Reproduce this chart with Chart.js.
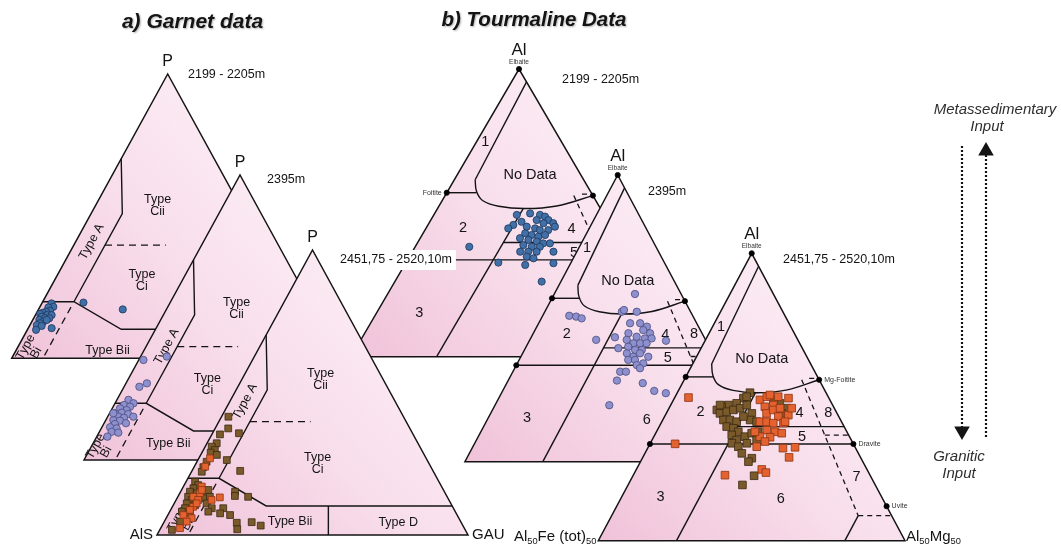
<!DOCTYPE html>
<html>
<head>
<meta charset="utf-8">
<title>Garnet and tourmaline ternary diagrams</title>
<script src="https://cdn.jsdelivr.net/npm/chart.js@4.4.1/dist/chart.umd.min.js"></script>
<style>
html, body { margin: 0; padding: 0; background: #fff; }
canvas { display: block; }
</style>
</head>
<body>
<canvas id="chart" width="1061" height="544"></canvas>
<script>
// ---------------- data ----------------
const depthLabels = ['2199 - 2205m', '2395m', '2451,75 - 2520,10m'];
const garnetApices = ['P', 'AlS', 'GAU'];
const tourmApex = 'Al';

// Garnet analyses: [P %, GAU %]; AlS is the remainder
const garnet2199 = [
  [19.3,3.1],[18.1,4.3],[17.9,2.8],[16.7,3.9],[16.4,2.8],[16.0,1.9],[15.6,1.3],[15.2,3.8],
  [15.2,5.2],[14.6,2.3],[14.1,3.6],[14.1,5.0],[13.5,2.1],[12.9,3.7],[12.3,2.9],[13.5,4.5],
  [11.7,2.2],[11.4,3.9],[10.0,2.8],[10.6,7.5],[19.6,13.2],[17.2,27.0]
];
const garnet2395 = [
  [21.1,3.7],[19.9,5.9],[19.3,3.2],[18.7,5.4],[18.1,2.5],[17.5,4.9],[16.6,3.8],[16.4,1.7],
  [16.1,6.1],[15.2,3.4],[14.8,5.4],[14.0,2.4],[13.8,4.6],[12.9,7.0],[12.6,3.6],[11.5,2.6],
  [11.1,4.9],[9.9,3.9],[9.6,6.2],[8.2,3.4],[16.4,1.2],[15.2,8.2],[35.1,1.5],[25.7,4.9],
  [26.9,6.7],[36.3,8.4]
];
const garnet2451Brown = [
  [41.5,2.2],[37.4,4.2],[35.7,8.5],[35.3,2.6],[32.2,3.1],[31.0,2.1],[29.8,3.7],[28.9,2.8],
  [28.1,5.2],[25.7,3.1],[26.3,9.3],[23.8,3.0],[22.2,3.3],[22.5,15.5],[18.7,2.9],[17.5,4.5],
  [16.4,3.5],[15.2,3.0],[14.6,5.5],[13.4,3.3],[12.3,5.0],[11.1,4.0],[10.5,7.0],[9.4,4.3],
  [8.2,3.9],[7.6,6.8],[14.0,7.4],[12.9,9.0],[13.4,10.3],[11.1,10.4],[9.4,12.9],[8.2,12.4],
  [15.2,17.5],[13.7,18.2],[13.4,22.6],[9.4,16.6],[7.6,16.5],[7.0,20.0],[4.3,23.5],[2.0,24.8],
  [4.5,28.2],[3.3,31.7],[4.7,5.1],[1.8,3.9],[15.8,8.6]
];
const garnet2451Orange = [
  [26.9,3.6],[24.0,3.5],[17.0,5.9],[14.6,6.5],[13.4,5.0],[12.3,7.1],[9.9,6.7],[8.8,6.2],
  [7.0,5.0],[5.9,8.2],[2.4,6.2],[12.3,11.4],[13.2,13.6],[15.8,6.5],[11.1,7.2],[4.7,7.2]
];

// Tourmaline analyses: [Al %, Al50Mg50 %]; Al50Fe50 is the remainder
const tourm2199 = [
  [49.3,24.7],[49.8,28.4],[49.3,31.6],[48.7,33.4],[47.5,31.5],[47.5,35.0],[46.4,37.0],[46.4,34.1],
  [46.9,27.3],[45.8,25.4],[44.6,24.5],[45.2,29.7],[44.6,32.5],[44.0,34.2],[44.0,36.7],[45.2,38.1],
  [42.9,30.4],[42.3,32.6],[41.7,34.9],[42.3,36.6],[41.2,29.7],[40.6,32.5],[40.0,35.3],[39.4,37.5],
  [39.4,39.5],[38.8,31.9],[38.2,34.7],[38.2,37.1],[36.5,32.1],[36.5,34.5],[36.5,37.0],[36.5,42.0],
  [34.8,34.9],[34.2,37.2],[31.9,35.9],[32.5,44.0],[32.7,27.5],[38.2,16.1],[26.1,43.7]
];
const tourm2395 = [
  [58.5,26.4],[50.9,8.7],[50.6,11.1],[50.0,13.2],[52.3,25.2],[52.9,25.6],[52.3,30.1],[42.5,21.7],
  [43.4,27.4],[39.6,30.4],[44.8,31.1],[48.3,29.9],[48.3,33.2],[47.1,36.0],[44.8,38.2],[45.9,35.4],
  [43.6,34.4],[43.0,37.4],[43.0,39.6],[42.5,31.7],[41.3,34.5],[41.3,36.7],[41.3,38.8],[40.1,33.4],
  [39.0,36.2],[39.0,38.4],[37.8,34.1],[36.6,36.8],[37.8,38.4],[35.5,35.7],[35.5,37.9],[36.6,41.7],
  [34.3,41.2],[33.7,39.4],[32.6,41.0],[31.4,35.1],[31.4,37.0],[28.3,35.6],[27.4,44.5],[24.7,49.6],
  [23.9,53.8],[19.7,37.4],[42.2,44.7]
];
const tourm2451Brown = [
  [51.5,23.7],[49.6,22.5],[47.8,21.2],[47.2,18.8],[46.6,16.9],[45.5,15.9],[44.3,17.5],[44.9,19.4],
  [45.5,21.3],[46.1,23.2],[47.2,24.8],[44.3,27.9],[42.0,28.5],[41.4,30.9],[42.0,19.8],[42.0,21.9],
  [41.4,24.4],[43.2,25.7],[39.7,22.0],[39.1,24.5],[37.9,26.7],[36.8,25.1],[35.0,27.6],[36.2,29.7],
  [37.4,31.3],[37.9,33.2],[33.9,26.6],[32.7,29.3],[30.4,31.6],[33.9,31.5],[28.7,35.7],[27.5,35.2],
  [22.6,39.5],[19.4,37.3],[46.1,38.4],[47.8,35.3],[49.0,32.6],[44.3,37.6],[47.2,16.1],[50.1,23.3],
  [35.0,34.1]
];
const tourm2451Orange = [
  [49.8,4.5],[33.7,8.2],[49.0,28.2],[50.1,29.9],[47.2,33.5],[46.6,31.0],[44.3,32.7],[45.5,34.3],
  [43.2,37.1],[43.7,40.1],[41.4,32.0],[41.4,34.2],[40.9,36.6],[40.9,39.9],[38.5,35.7],[37.9,38.7],
  [37.4,41.1],[36.2,34.6],[36.0,38.0],[37.9,32.1],[34.5,37.1],[32.7,35.3],[32.2,44.1],[32.5,47.9],
  [29.0,47.7],[24.8,40.9],[23.7,42.8],[22.8,29.9],[49.6,37.2],[50.1,33.6],[50.7,30.6],[46.1,40.0],
  [46.1,36.2],[41.4,40.2]
];

// Field boundaries, same [top %, right %] convention
const garnetSolid = [
  [[70.2,0],[50.9,10],[19.9,10]],
  [[19.9,0],[19.9,10],[10.2,30],[10.2,89.8]],
  [[10.2,50],[0,55.1]]
];
const garnetDashed = [
  [[18,10],[0,10]],
  [[39.8,10],[39.8,29.5]]
];
const tourmSolid = [
  [[95.5,4.5],[61.5,6.2]],
  [[57,0],[57,8.9]],
  [[51.5,25.5],[0,25.5]],
  [[39.7,25.5],[39.7,60.3]],
  [[33.65,0],[33.65,66.35]],
  [[8.7,80.4],[0,80.4]]
];
const tourmCurve = [[61.5,6.2],[57.5,8.6],[54.3,12],[52.3,17.8],[51.5,26],[52.4,35],[56,44]];
const tourmDashed = [
  [[56.5,40.5],[56.5,43.5]],
  [[56,38.3],[8.7,80.4]],
  [[36.7,55.5],[36.7,63.3]],
  [[8.7,80.4],[8.7,91.3]]
];
const endMembers = ['Elbaite', 'Foitite', 'Mg-Foitite', 'Schorl', 'Dravite', 'Uvite'];
const endMemberComp = [[100,0],[57,0],[56,44],[33.65,0],[33.65,66.35],[12,88]];

// Tourmaline field numbers: [text, Al %, Al50Mg50 %]
const tourmFields = [
  ['1',74.5,2.75],['No Data',63.2,21.7],['2',44.7,11],['4',44.3,43.45],['8',44.5,52.75],
  ['5',36.2,48.3],['3',15.1,12.75],['6',14.5,52.25],['7',22.3,73.05]
];
// Garnet field names per diagram: [text, P %, GAU %, along-side flag]
const garnetFields = [
  [['Type|Cii',53.7,19.9],['Type|Ci',27.5,28.0],['Type A',41.0,5.1,1],['Type Bii',2.8,29.3],['Type|Bi',2.9,4.7,1]],
  [['Type|Cii',53.0,22.4],['Type|Ci',26.5,26.3],['Type A',39.8,6.6,1],['Type Bii',5.6,24.2],['Type|Bi',3.8,3.5,1]],
  [['Type|Cii',54.6,25.3],['Type|Ci',24.9,39.2],['Type A',46.8,4.9,1],['Type Bii',4.7,40.4],['Type D',4.3,75.4],['Type|Bi',4.6,5.8,1]]
];

// ---------------- layout ----------------
const FONT = '"Liberation Sans", Arial, Helvetica, sans-serif';
const INK = '#141414';

// where each ternary frame sits on the page
const garnetFrames = [
  { apex: [167.7, 74],    left: [11.7, 358.3],  right: [323.7, 358.3] },
  { apex: [240, 175],     left: [84, 460],      right: [396, 460] },
  { apex: [312.5, 250],   left: [157, 535],     right: [468, 535] }
];
const tourmFrames = [
  { apex: [519, 69],      left: [351, 356.7],   right: [687, 356.7] },
  { apex: [617.7, 175],   left: [464.9, 461.7], right: [770.5, 461.7] },
  { apex: [751.7, 253.3], left: [598.3, 540.7], right: [905, 540.7] }
];
const depthPos = {
  garnet: [[188, 75], [267, 180], [340, 260]],
  tourm: [[562, 80], [648, 192], [783, 260]]
};

const marks = {
  blue:     { shape: 'circle', r: 3.6, fill: '#4170a8', stroke: '#1d3659' },
  lavender: { shape: 'circle', r: 3.7, fill: '#8d90cc', stroke: '#4a4c82' },
  brown:    { shape: 'rect',   r: 4.8, fill: '#7a5a2b', stroke: '#3a2911' },
  orange:   { shape: 'rect',   r: 4.8, fill: '#e3622f', stroke: '#8c3412' }
};

// barycentric position inside a frame: top = apex share, right = right-corner share (%)
function tern(f, top, right) {
  const t = top / 100, r = right / 100;
  return {
    x: f.left[0] + r * (f.right[0] - f.left[0]) + t * (f.apex[0] - f.left[0]),
    y: f.left[1] + r * (f.right[1] - f.left[1]) + t * (f.apex[1] - f.left[1])
  };
}

function pinkGradient(chart, f) {
  const { ctx, scales } = chart;
  let x0 = f.left[0], y0 = f.left[1], x1 = f.right[0], y1 = f.apex[1];
  if (scales && scales.x && scales.y) {
    const px = [scales.x.getPixelForValue(x0), scales.y.getPixelForValue(y0),
                scales.x.getPixelForValue(x1), scales.y.getPixelForValue(y1)];
    if (px.every(Number.isFinite)) [x0, y0, x1, y1] = px;
  }
  const g = ctx.createLinearGradient(x0, y0, x1, y1);
  g.addColorStop(0, '#f0c2d9');
  g.addColorStop(0.45, '#f8deeb');
  g.addColorStop(1, '#fef6fa');
  return g;
}

function frameDataset(f) {
  const corners = [[0,0],[0,100],[100,0],[0,0],[0,100]];
  return {
    data: corners.map(p => tern(f, p[0], p[1])),
    showLine: true, fill: 'shape', pointRadius: 0, tension: 0,
    borderColor: INK, borderWidth: 1.5, borderJoinStyle: 'miter',
    backgroundColor: ctx => pinkGradient(ctx.chart, f)
  };
}
function pathDataset(f, pts, dashed, curved, dash) {
  return {
    data: pts.map(p => tern(f, p[0], p[1])),
    showLine: true, fill: false, pointRadius: 0,
    borderColor: INK, borderWidth: dashed ? 1.3 : 1.4,
    borderDash: dashed ? (dash || [5, 4]) : [],
    tension: curved ? 0.4 : 0
  };
}
function markDataset(f, pts, st) {
  return {
    data: pts.map(p => tern(f, p[0], p[1])),
    showLine: false, pointStyle: st.shape, pointRadius: st.r, pointHoverRadius: st.r,
    pointBackgroundColor: st.fill, pointBorderColor: st.stroke, pointBorderWidth: 0.8
  };
}
function sideAngle(f) {
  return Math.atan2(f.apex[1] - f.left[1], f.apex[0] - f.left[0]);
}

// ---------------- layers (back to front) ----------------
// each layer: frame and field lines, then its labels, then the analyses on top
const layers = [];

function garnetLayer(i, series) {
  const f = garnetFrames[i];
  const base = [frameDataset(f)];
  garnetSolid.forEach(p => base.push(pathDataset(f, p, false)));
  garnetDashed.forEach(p => base.push(pathDataset(f, p, true, false, [7, 5])));
  const pts = series.map(s => markDataset(f, s[0], s[1]));
  const texts = [];
  texts.push({ x: f.apex[0], y: f.apex[1] - 12, text: garnetApices[0], size: 16 });
  if (i < 2) texts.push({ x: depthPos.garnet[i][0], y: depthPos.garnet[i][1], text: depthLabels[i], size: 12.5, align: 'left' });
  garnetFields[i].forEach(g => {
    const p = tern(f, g[1], g[2]);
    texts.push({ x: p.x, y: p.y, text: g[0], size: 12.5, lh: 12, rot: g[3] ? sideAngle(f) : 0 });
  });
  if (i === 2) {
    texts.push({ x: f.left[0] - 4, y: f.left[1], text: garnetApices[1], size: 15, align: 'right' });
    texts.push({ x: f.right[0] + 4, y: f.right[1], text: garnetApices[2], size: 15, align: 'left' });
  }
  layers.push({ base, texts, pts });
}

function tourmLayer(i, series) {
  const f = tourmFrames[i];
  const base = [frameDataset(f)];
  tourmSolid.forEach(p => base.push(pathDataset(f, p, false)));
  base.push(pathDataset(f, tourmCurve, false, true));
  tourmDashed.forEach(p => base.push(pathDataset(f, p, true)));
  base.push(markDataset(f, endMemberComp, { shape: 'circle', r: 2.6, fill: '#000', stroke: '#000' }));
  const pts = series.map(s => markDataset(f, s[0], s[1]));
  const texts = [];
  texts.push({ x: f.apex[0], y: f.apex[1] - 19, text: tourmApex, size: 17 });
  texts.push({ x: f.apex[0], y: f.apex[1] - 7, text: endMembers[0], size: 6.5, color: '#333' });
  tourmFields.forEach(t => {
    const p = tern(f, t[1], t[2]);
    texts.push({ x: p.x, y: p.y, text: t[0], size: 14.5 });
  });
  texts.push({ x: depthPos.tourm[i][0], y: depthPos.tourm[i][1], text: depthLabels[i], size: 12.5, align: 'left' });
  if (i === 0) {
    const p = tern(f, endMemberComp[1][0], endMemberComp[1][1]);
    texts.push({ x: p.x - 5, y: p.y, text: endMembers[1], size: 7, align: 'right', color: '#333' });
  }
  if (i === 2) {
    [2, 4, 5].forEach(k => {
      const p = tern(f, endMemberComp[k][0], endMemberComp[k][1]);
      texts.push({ x: p.x + 5, y: p.y, text: endMembers[k], size: 7, align: 'left', color: '#333' });
    });
    texts.push({ x: f.left[0] - 2, y: f.left[1] - 4, size: 15, align: 'right',
      runs: [['Al', 0], ['50', 1], ['Fe (tot)', 0], ['50', 1]] });
    texts.push({ x: f.right[0] + 1, y: f.right[1] - 4, size: 15, align: 'left',
      runs: [['Al', 0], ['50', 1], ['Mg', 0], ['50', 1]] });
  }
  layers.push({ base, texts, pts });
}

tourmLayer(0, [[tourm2199, marks.blue]]);
garnetLayer(0, [[garnet2199, marks.blue]]);
garnetLayer(1, [[garnet2395, marks.lavender]]);
garnetLayer(2, [[garnet2451Brown, marks.brown], [garnet2451Orange, marks.orange]]);
tourmLayer(1, [[tourm2395, marks.lavender]]);
tourmLayer(2, [[tourm2451Brown, { ...marks.brown, r: 5.4 }], [tourm2451Orange, { ...marks.orange, r: 5.4 }]]);

// input-direction arrows on the right
layers.push({
  base: [
    { data: [{ x: 962, y: 146 }, { x: 962, y: 431 }], showLine: true, fill: false,
      borderColor: INK, borderWidth: 2.2, borderDash: [2, 2],
      pointStyle: 'triangle', pointRadius: [0, 9], pointRotation: 180,
      pointBackgroundColor: INK, pointBorderColor: INK, pointBorderWidth: 0 },
    { data: [{ x: 986, y: 437 }, { x: 986, y: 151 }], showLine: true, fill: false,
      borderColor: INK, borderWidth: 2.2, borderDash: [2, 2],
      pointStyle: 'triangle', pointRadius: [0, 9], pointRotation: 0,
      pointBackgroundColor: INK, pointBorderColor: INK, pointBorderWidth: 0 }
  ],
  texts: [],
  pts: []
});

const overlayTexts = [
  { x: 192.5, y: 22, text: 'a) Garnet data', size: 21, style: 'italic bold', shadow: true },
  { x: 534, y: 20, text: 'b) Tourmaline Data', size: 20.5, style: 'italic bold', shadow: true },
  { x: depthPos.garnet[2][0], y: depthPos.garnet[2][1], text: depthLabels[2], size: 12.5, align: 'left', box: true },
  { x: 995, y: 110, text: 'Metassedimentary', size: 15, style: 'italic', color: '#2e2e2e' },
  { x: 987, y: 127, text: 'Input', size: 15, style: 'italic', color: '#2e2e2e' },
  { x: 959, y: 457, text: 'Granitic', size: 15, style: 'italic', color: '#2e2e2e' },
  { x: 959, y: 474, text: 'Input', size: 15, style: 'italic', color: '#2e2e2e' }
];

const datasets = [];
const layerTextAt = {};
layers.forEach(L => {
  L.base.forEach(d => datasets.push(d));
  layerTextAt[datasets.length - 1] = L.texts;
  L.pts.forEach(d => datasets.push(d));
});
// draw strictly in array order: earlier datasets underneath
datasets.forEach((d, i) => { d.order = -i; });

// ---------------- text drawing ----------------
function drawItem(chart, t) {
  const ctx = chart.ctx;
  const px = chart.scales.x.getPixelForValue(t.x);
  const py = chart.scales.y.getPixelForValue(t.y);
  ctx.save();
  ctx.translate(px, py);
  if (t.rot) ctx.rotate(t.rot);
  ctx.textBaseline = 'middle';
  ctx.font = `${t.style || ''} ${t.size}px ${FONT}`;
  if (t.runs) {
    const sub = t.size * 0.62;
    let w = 0;
    t.runs.forEach(r => {
      ctx.font = `${r[1] ? sub : t.size}px ${FONT}`;
      w += ctx.measureText(r[0]).width;
    });
    let x = t.align === 'right' ? -w : 0;
    ctx.fillStyle = t.color || INK;
    ctx.textAlign = 'left';
    t.runs.forEach(r => {
      ctx.font = `${r[1] ? sub : t.size}px ${FONT}`;
      ctx.fillText(r[0], x, r[1] ? t.size * 0.3 : 0);
      x += ctx.measureText(r[0]).width;
    });
    ctx.restore();
    return;
  }
  ctx.textAlign = t.align || 'center';
  if (t.box) {
    const w = ctx.measureText(t.text).width;
    ctx.fillStyle = '#fff';
    ctx.fillRect(-4, -t.size * 0.8, w + 8, t.size * 1.6);
  }
  if (t.shadow) {
    ctx.shadowColor = 'rgba(0,0,0,0.3)';
    ctx.shadowOffsetX = 1;
    ctx.shadowOffsetY = 1.5;
    ctx.shadowBlur = 2;
  }
  ctx.fillStyle = t.color || INK;
  const lines = t.text.split('|');
  const lh = t.lh || t.size * 1.1;
  lines.forEach((s, k) => ctx.fillText(s, 0, (k - (lines.length - 1) / 2) * lh));
  ctx.restore();
}

const fieldTextPlugin = {
  id: 'fieldText',
  afterDatasetDraw(chart, args) {
    const items = layerTextAt[args.index];
    if (items) items.forEach(t => drawItem(chart, t));
  },
  afterDatasetsDraw(chart) {
    overlayTexts.forEach(t => drawItem(chart, t));
  }
};

new Chart(document.getElementById('chart'), {
  type: 'line',
  data: { datasets },
  options: {
    responsive: false,
    animation: false,
    events: [],
    devicePixelRatio: 1,
    layout: { padding: 0, autoPadding: false },
    scales: {
      x: { type: 'linear', min: 0, max: 1061, display: false },
      y: { type: 'linear', min: 0, max: 544, reverse: true, display: false }
    },
    plugins: {
      legend: { display: false },
      tooltip: { enabled: false },
      filler: { propagate: false }
    }
  },
  plugins: [fieldTextPlugin]
});
</script>
</body>
</html>
